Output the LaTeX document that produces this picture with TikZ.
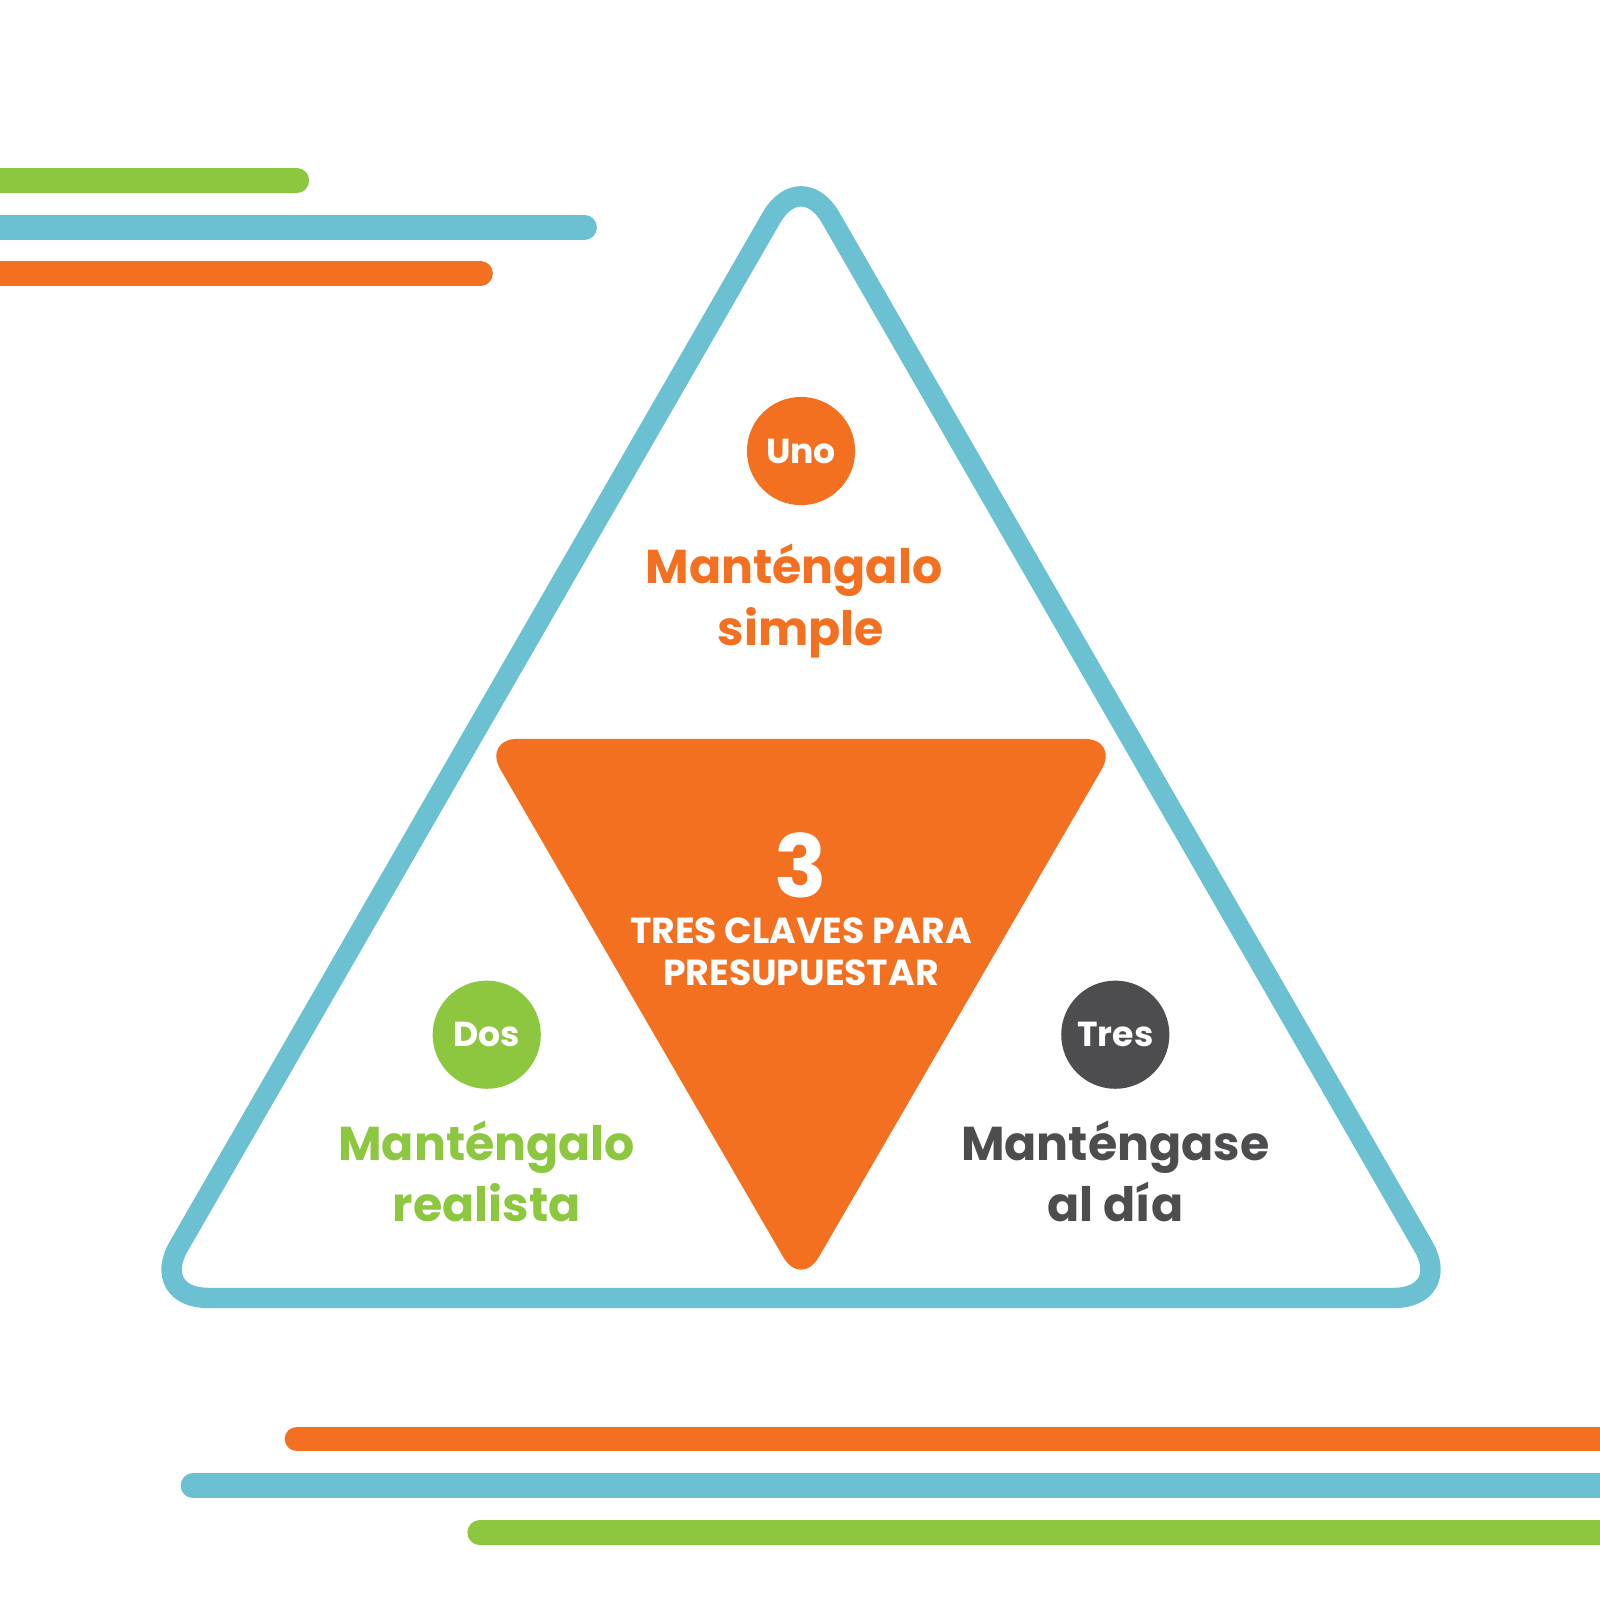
\documentclass[tikz,border=0pt]{standalone}
\usepackage{fontspec}
\setmainfont{Poppins}
\definecolor{naranja}{HTML}{F37021}
\definecolor{celeste}{HTML}{6BC1D2}
\definecolor{verde}{HTML}{8DC63F}
\definecolor{gris}{HTML}{4D4D4F}
\tikzset{
	barra/.style={line width=24pt, line cap=round},
	disco/.style={circle, minimum size=106pt, inner sep=0pt, text=white, font=\fontsize{34}{40}\selectfont\bfseries},
	lema/.style={anchor=base, inner sep=0pt, font=\fontsize{46.5}{56}\selectfont\bfseries},
	clave/.style={anchor=base, inner sep=0pt, text=white, font=\fontsize{35.5}{42}\selectfont\bfseries}
}
\begin{document}
\begin{tikzpicture}[x=1pt, y=-1pt]
		%%%%% START %%%%%
		\useasboundingbox (0, 0) rectangle (1568, 1568);
		
		% barras de arriba
		\draw[barra, verde] (-30, 177) -- (291, 177);
		\draw[barra, celeste] (-30, 223) -- (573, 223);
		\draw[barra, naranja] (-30, 268) -- (471, 268);
		
		% triangulo exterior
		\draw[celeste, line width=20pt, rounded corners=58pt] (785, 163) -- (1424, 1272) -- (146, 1272) -- cycle;
		
		% triangulo central
		\fill[naranja, rounded corners=35pt] (473, 724) -- (1097, 724) -- (785, 1262) -- cycle;
		
		\node[text=white, inner sep=0pt, font=\fontsize{85}{96}\selectfont\bfseries] (tres) at (785, 848) {3};
		\node[clave] (clave-a) at (785, 925) {TRES CLAVES PARA};
		\node[clave] (clave-b) at (785, 966) {PRESUPUESTAR};
		
		% uno
		\node[disco, fill=naranja] (uno) at (785, 442) {Uno};
		\node[lema, text=naranja] (uno-a) at (778, 572) {Manténgalo};
		\node[lema, text=naranja] (uno-b) at (785, 633) {simple};
		
		% dos
		\node[disco, fill=verde] (dos) at (477, 1014) {Dos};
		\node[lema, text=verde] (dos-a) at (477, 1137) {Manténgalo};
		\node[lema, text=verde] (dos-b) at (477, 1197) {realista};
		
		% tres
		\node[disco, fill=gris] (tres-c) at (1093, 1014) {Tres};
		\node[lema, text=gris] (tres-a) at (1093, 1137) {Manténgase};
		\node[lema, text=gris] (tres-b) at (1093, 1197) {al día};
		
		% barras de abajo
		\draw[barra, naranja] (291, 1410) -- (1600, 1410);
		\draw[barra, celeste] (189, 1456) -- (1600, 1456);
		\draw[barra, verde] (470, 1502) -- (1600, 1502);
		%%%%% END %%%%%
\end{tikzpicture}
\end{document}
